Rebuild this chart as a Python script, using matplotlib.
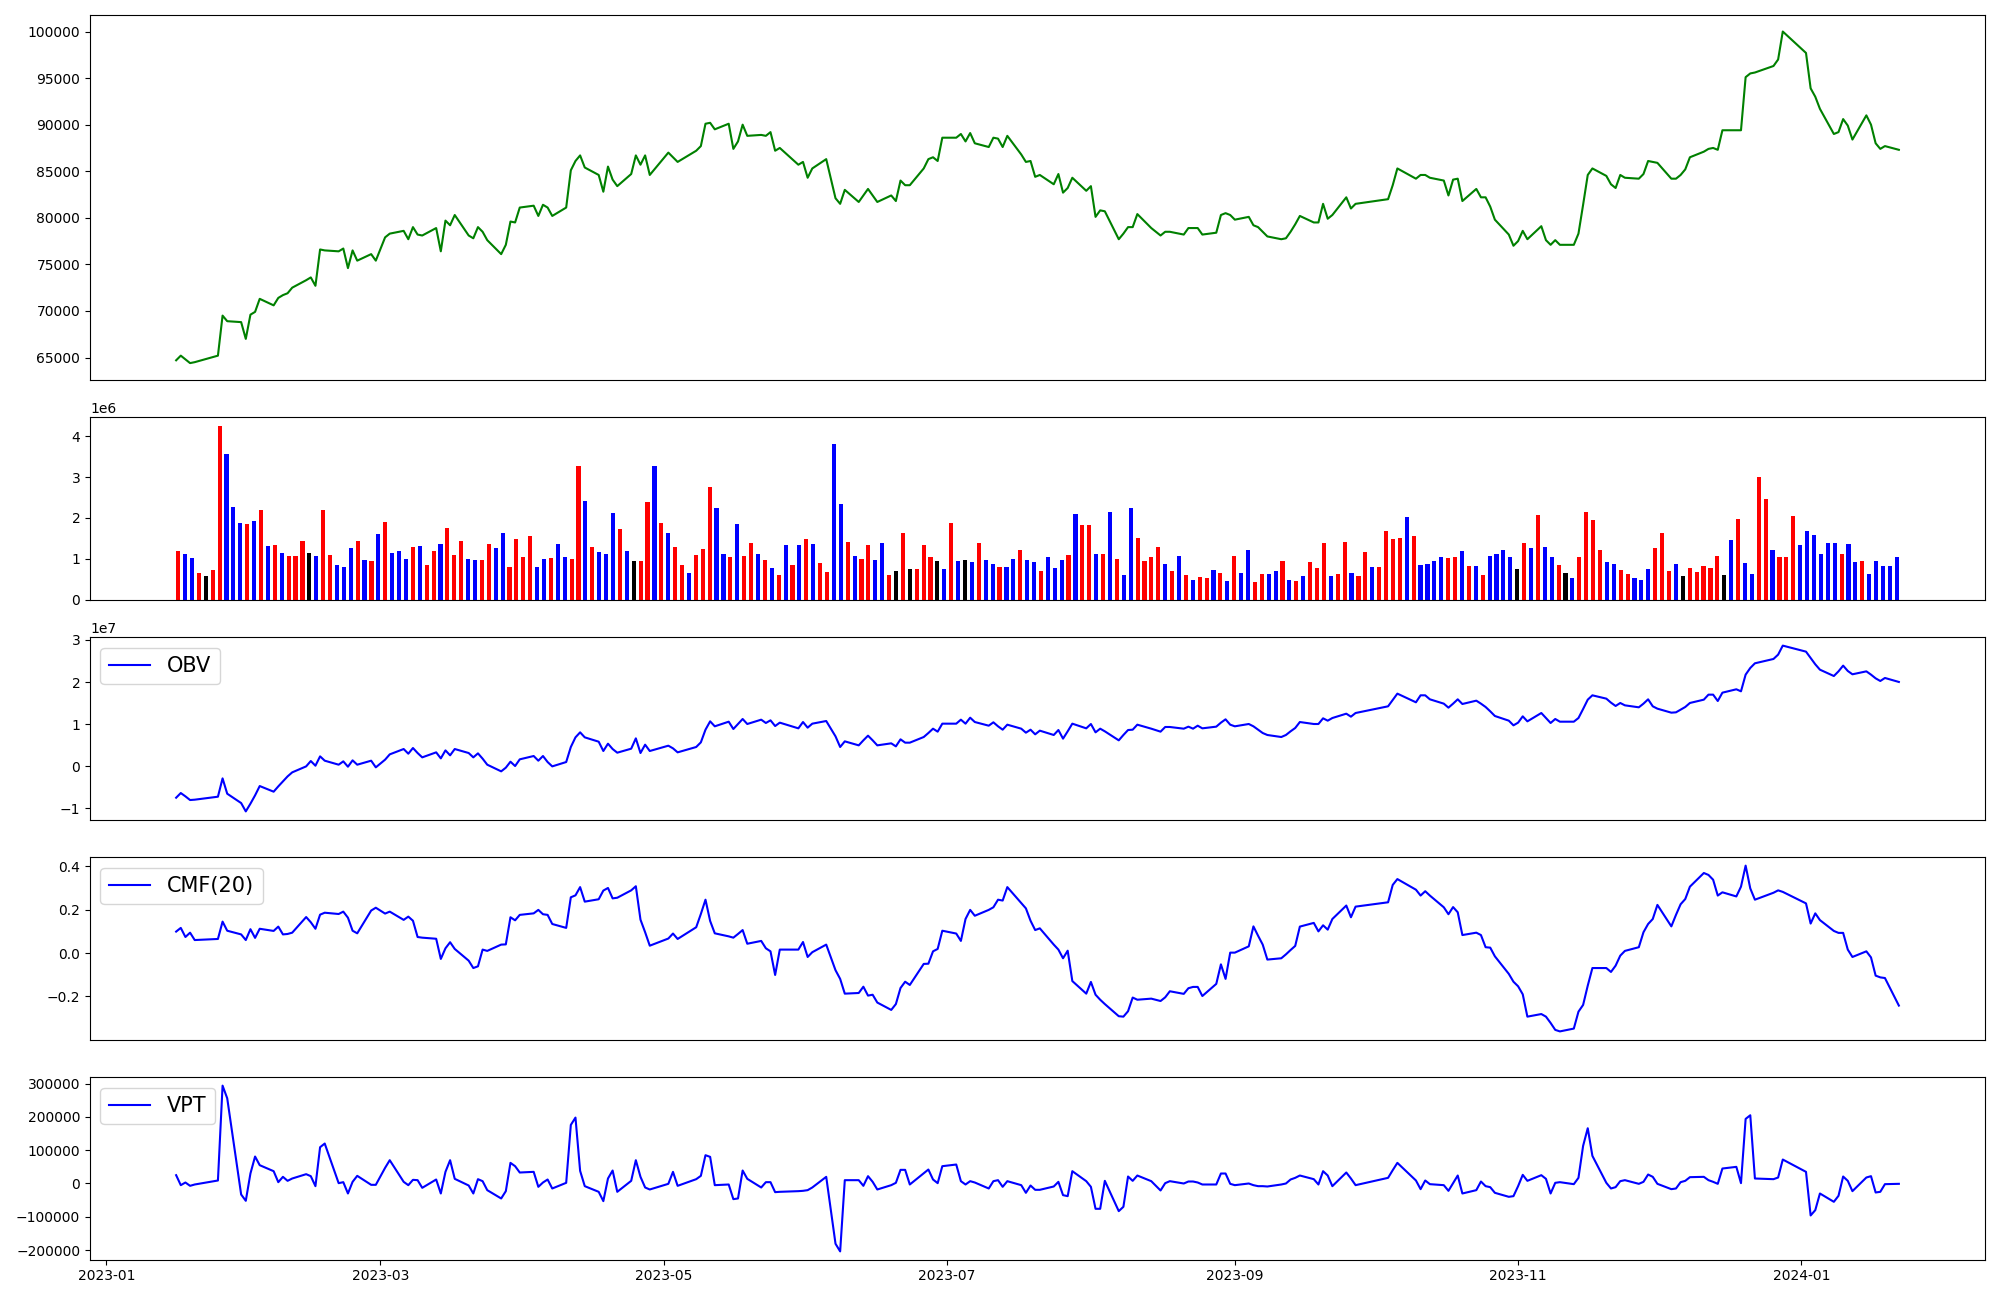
import numpy as np
import pandas as pd
from matplotlib import pyplot as plt

# KRX trading days between 2023-01-16 and 2024-01-22
holidays = ['2023-01-23', '2023-01-24', '2023-03-01', '2023-05-01', '2023-05-05',
            '2023-05-29', '2023-06-06', '2023-08-15', '2023-09-28', '2023-09-29',
            '2023-10-02', '2023-10-03', '2023-10-09', '2023-12-25', '2023-12-29',
            '2024-01-01']
dates = pd.bdate_range('2023-01-16', '2024-01-22')
dates = dates[~dates.isin(pd.to_datetime(holidays))]

# close price, one row per week
close = [
    64700, 65200, 64800, 64400, 64500,
    65200, 69500, 68900,
    68800, 67000, 69600, 69900, 71300,
    70600, 71400, 71700, 71900, 72500,
    73300, 73600, 72700, 76600, 76500,
    76400, 76700, 74600, 76500, 75400,
    76100, 75400, 77900, 78300,
    78600, 77700, 79000, 78200, 78100,
    78900, 76400, 79700, 79200, 80300,
    78100, 77800, 79000, 78500, 77600,
    76100, 77100, 79600, 79500, 81100,
    81300, 80200, 81400, 81100, 80200,
    81100, 85100, 86100, 86700, 85400,
    84600, 82800, 85500, 84100, 83400,
    84700, 86700, 85700, 86700, 84600,
    87000, 86500, 86000,
    87200, 87700, 90100, 90200, 89500,
    90100, 87400, 88200, 90000, 88800,
    88900, 88800, 89200, 87200, 87500,
    85700, 86000, 84300, 85300,
    86300, 82100, 81500, 83000,
    81700, 82400, 83100, 82400, 81700,
    82400, 81800, 84000, 83500, 83500,
    85300, 86300, 86500, 86100, 88600,
    88600, 89000, 88200, 89100, 88000,
    87600, 88600, 88500, 87600, 88800,
    86800, 86000, 86100, 84400, 84600,
    83600, 84700, 82700, 83200, 84300,
    82900, 83400, 80100, 80800, 80700,
    77700, 78300, 79000, 79000, 80400,
    78900, 78100, 78500, 78500,
    78200, 78900, 78900, 78900, 78200,
    78400, 80300, 80500, 80300, 79800,
    80100, 79200, 79000, 78500, 78000,
    77700, 77800, 78500, 79300, 80200,
    79500, 79500, 81500, 79900, 80300,
    82200, 81000, 81500,
    82000, 83500, 85300,
    84200, 84600, 84600, 84300,
    84000, 82400, 84100, 84200, 81800,
    83100, 82200, 82200, 81200, 79800,
    78200, 77000, 77500, 78600, 77700,
    79100, 77600, 77100, 77600, 77100,
    77100, 78300, 81400, 84600, 85300,
    84500, 83600, 83200, 84600, 84300,
    84200, 84700, 86100, 86000, 85900,
    84200, 84200, 84600, 85200, 86500,
    87100, 87400, 87500, 87300, 89400,
    89400, 89400, 95100, 95500, 95600,
    96300, 97000, 100000,
    97700, 93900, 93000, 91700,
    89000, 89200, 90600, 89900, 88400,
    91000, 90000, 88000, 87400, 87700,
    87300,
]

# volume in millions of shares
volume_m = [
    1.19, 1.12, 1.02, 0.65, 0.58, 0.73, 4.25, 3.56, 2.27, 1.88,
    1.85, 1.92, 2.19, 1.31, 1.34, 1.14, 1.07, 1.07, 1.44, 1.14,
    1.07, 2.19, 1.09, 0.85, 0.80, 1.26, 1.44, 0.97, 0.95, 1.61,
    1.90, 1.14, 1.19, 1.00, 1.29, 1.31, 0.85, 1.19, 1.36, 1.75,
    1.09, 1.44, 1.00, 0.97, 0.97, 1.36, 1.26, 1.63, 0.80, 1.48,
    1.04, 1.56, 0.80, 1.00, 1.02, 1.36, 1.04, 1.00, 3.27, 2.41,
    1.29, 1.17, 1.12, 2.12, 1.73, 1.19, 0.95, 0.95, 2.39, 3.27,
    1.88, 1.63, 1.29, 0.85, 0.65, 1.09, 1.24, 2.76, 2.24, 1.12,
    1.04, 1.85, 1.07, 1.39, 1.12, 0.97, 0.78, 0.60, 1.34, 0.85,
    1.34, 1.48, 1.36, 0.90, 0.68, 3.81, 2.34, 1.41, 1.07, 1.00,
    1.34, 0.97, 1.39, 0.60, 0.70, 1.63, 0.75, 0.75, 1.34, 1.04,
    0.95, 0.75, 1.88, 0.95, 0.97, 0.92, 1.39, 0.97, 0.87, 0.80,
    0.80, 1.00, 1.22, 0.97, 0.92, 0.70, 1.04, 0.78, 0.97, 1.09,
    2.10, 1.83, 1.83, 1.12, 1.12, 2.14, 1.00, 0.60, 2.24, 1.51,
    0.95, 1.04, 1.29, 0.87, 0.70, 1.07, 0.60, 0.48, 0.56, 0.53,
    0.73, 0.65, 0.46, 1.07, 0.65, 1.22, 0.43, 0.63, 0.63, 0.70,
    0.95, 0.48, 0.46, 0.58, 0.92, 0.78, 1.39, 0.58, 0.63, 1.41,
    0.65, 0.58, 1.17, 0.80, 0.80, 1.68, 1.48, 1.51, 2.02, 1.56,
    0.85, 0.87, 0.95, 1.04, 1.02, 1.04, 1.19, 0.82, 0.82, 0.60,
    1.07, 1.12, 1.22, 1.04, 0.75, 1.39, 1.26, 2.07, 1.29, 1.04,
    0.85, 0.65, 0.53, 1.04, 2.14, 1.95, 1.22, 0.92, 0.87, 0.73,
    0.63, 0.53, 0.48, 0.75, 1.26, 1.63, 0.70, 0.87, 0.58, 0.78,
    0.68, 0.82, 0.78, 1.07, 0.60, 1.46, 1.97, 0.90, 0.63, 3.00,
    2.46, 1.22, 1.04, 1.04, 2.05, 1.34, 1.68, 1.58, 1.12, 1.39,
    1.39, 1.12, 1.36, 0.92, 0.95, 0.63, 0.95, 0.82, 0.82, 1.04,
]

# r = up, b = down, k = flat
bar_kind = (
    "rbbrkrrbbb" "rbrbrbrrrk" "brrbbbrbrb" "rbbbrbrrbr" "rrbbrrbbrr"
    "rrbbrbbrrb" "rbbbrbkrrb" "rbrrbrrrbb" "rbrrbrbrbr" "brbrrbbrbr"
    "rbbrkrkrrr" "kbrbkbrbbr" "bbrbbrbbbr" "brrbrbrbbr" "rrrbrbrbrr"
    "brbrbbrrbb" "rbrbrrrbrr" "brrbrrrrbr" "bbbbrrbrbr" "bbbbkrbrbb"
    "rkbrrrrbbr" "rbbbrrrbkr" "rrrrkbrbbr" "rbrrrbbbbb" "brbbrbbbbb"
)

# OBV in units of 1e7
obv_1e7 = [
    -0.746, -0.635, -0.714, -0.801, -0.793,
    -0.722, -0.287, -0.651,
    -0.873, -1.071, -0.888, -0.690, -0.469,
    -0.603, -0.477, -0.358, -0.240, -0.144,
    -0.002, 0.125, 0.014, 0.236, 0.133,
    0.038, 0.117, -0.010, 0.141, 0.038,
    0.133, -0.025, 0.157, 0.283,
    0.410, 0.299, 0.434, 0.315, 0.212,
    0.331, 0.188, 0.378, 0.260, 0.410,
    0.315, 0.212, 0.307, 0.181, 0.038,
    -0.120, -0.033, 0.109, 0.006, 0.165,
    0.244, 0.133, 0.244, 0.101, -0.002,
    0.101, 0.458, 0.687, 0.806, 0.687,
    0.584, 0.363, 0.537, 0.410, 0.323,
    0.418, 0.663, 0.315, 0.513, 0.363,
    0.489, 0.426, 0.331,
    0.458, 0.568, 0.869, 1.067, 0.949,
    1.059, 0.885, 1.004, 1.123, 1.004,
    1.107, 1.028, 1.091, 0.956, 1.036,
    0.901, 1.051, 0.917, 1.012,
    1.075, 0.711, 0.458, 0.592,
    0.497, 0.616, 0.727, 0.616, 0.497,
    0.545, 0.473, 0.640, 0.561, 0.561,
    0.695, 0.790, 0.893, 0.822, 1.012,
    1.012, 1.107, 1.012, 1.154, 1.051,
    0.964, 1.044, 0.949, 0.869, 0.988,
    0.893, 0.798, 0.869, 0.759, 0.846,
    0.743, 0.861, 0.656, 0.830, 1.012,
    0.901, 1.004, 0.806, 0.893, 0.830,
    0.616, 0.743, 0.861, 0.869, 0.988,
    0.893, 0.822, 0.933, 0.933,
    0.893, 0.941, 0.893, 0.964, 0.901,
    0.941, 1.036, 1.115, 0.988, 0.949,
    1.004, 0.949, 0.869, 0.790, 0.743,
    0.695, 0.743, 0.830, 0.909, 1.051,
    1.004, 1.004, 1.139, 1.083, 1.146,
    1.249, 1.178, 1.265,
    1.424, 1.574, 1.725,
    1.519, 1.685, 1.685, 1.590,
    1.487, 1.392, 1.487, 1.590, 1.479,
    1.558, 1.487, 1.408, 1.305, 1.194,
    1.083, 0.972, 1.036, 1.186, 1.067,
    1.265, 1.146, 1.028, 1.123, 1.059,
    1.059, 1.146, 1.360, 1.582, 1.685,
    1.606, 1.511, 1.432, 1.503, 1.447,
    1.400, 1.487, 1.590, 1.424, 1.368,
    1.273, 1.281, 1.344, 1.408, 1.503,
    1.582, 1.701, 1.701, 1.550, 1.748,
    1.828, 1.780, 2.176, 2.334, 2.445,
    2.548, 2.651, 2.865,
    2.722, 2.571, 2.421, 2.294,
    2.143, 2.254, 2.390, 2.263, 2.184,
    2.254, 2.176, 2.088, 2.025, 2.097,
    2.002,
]

cmf_20 = [
    0.099, 0.116, 0.074, 0.094, 0.060,
    0.065, 0.145, 0.103,
    0.086, 0.060, 0.110, 0.070, 0.112,
    0.102, 0.122, 0.086, 0.088, 0.094,
    0.166, 0.142, 0.112, 0.177, 0.186,
    0.180, 0.191, 0.163, 0.103, 0.091,
    0.196, 0.209, 0.182, 0.191,
    0.153, 0.168, 0.149, 0.074, 0.071,
    0.066, -0.027, 0.022, 0.050, 0.019,
    -0.035, -0.069, -0.061, 0.016, 0.010,
    0.039, 0.040, 0.165, 0.151, 0.176,
    0.183, 0.199, 0.179, 0.176, 0.134,
    0.116, 0.257, 0.266, 0.304, 0.237,
    0.248, 0.288, 0.300, 0.252, 0.255,
    0.289, 0.308, 0.154, 0.096, 0.034,
    0.067, 0.090, 0.065,
    0.119, 0.180, 0.246, 0.148, 0.091,
    0.077, 0.071, 0.088, 0.106, 0.043,
    0.056, 0.022, 0.008, -0.101, 0.016,
    0.016, 0.051, -0.018, 0.004,
    0.039, -0.079, -0.119, -0.187,
    -0.184, -0.155, -0.196, -0.192, -0.228,
    -0.262, -0.235, -0.161, -0.132, -0.147,
    -0.050, -0.049, 0.008, 0.019, 0.103,
    0.090, 0.056, 0.157, 0.199, 0.172,
    0.199, 0.211, 0.246, 0.242, 0.304,
    0.231, 0.206, 0.149, 0.106, 0.114,
    0.039, 0.016, -0.024, 0.011, -0.129,
    -0.187, -0.133, -0.192, -0.215, -0.235,
    -0.291, -0.293, -0.268, -0.205, -0.215,
    -0.210, -0.221, -0.204, -0.176,
    -0.188, -0.162, -0.156, -0.156, -0.198,
    -0.142, -0.052, -0.119, 0.002, 0.002,
    0.031, 0.123, 0.080, 0.039, -0.030,
    -0.024, -0.006, 0.014, 0.033, 0.122,
    0.139, 0.100, 0.128, 0.108, 0.157,
    0.219, 0.165, 0.214,
    0.234, 0.314, 0.341,
    0.292, 0.265, 0.285, 0.265,
    0.211, 0.179, 0.212, 0.188, 0.083,
    0.094, 0.083, 0.027, 0.025, -0.015,
    -0.096, -0.132, -0.153, -0.190, -0.293,
    -0.281, -0.293, -0.322, -0.354, -0.361,
    -0.348, -0.270, -0.239, -0.150, -0.069,
    -0.069, -0.087, -0.058, -0.012, 0.010,
    0.027, 0.096, 0.134, 0.157, 0.222,
    0.123, 0.176, 0.225, 0.249, 0.306,
    0.369, 0.360, 0.338, 0.265, 0.280,
    0.261, 0.306, 0.403, 0.298, 0.246,
    0.278, 0.289, 0.282,
    0.229, 0.136, 0.183, 0.152,
    0.102, 0.093, 0.093, 0.016, -0.018,
    0.008, -0.020, -0.104, -0.112, -0.115,
    -0.242,
]

vpt = [
    25000, -5000, 3000, -7000, -3000,
    9000, 294000, 256000,
    -33000, -52000, 30000, 81000, 55000,
    37000, 4000, 20000, 8000, 15000,
    28000, 22000, -8000, 109000, 120000,
    1000, 4000, -30000, 5000, 23000,
    -4000, -4000, 47000, 70000,
    5000, -5000, 11000, 10000, -13000,
    12000, -30000, 35000, 70000, 14000,
    -6000, -30000, 13000, 7000, -20000,
    -45000, -23000, 62000, 52000, 33000,
    35000, -10000, 3000, 12000, -15000,
    2000, 176000, 198000, 38000, -8000,
    -25000, -53000, 15000, 39000, -25000,
    8000, 70000, 20000, -12000, -18000,
    -1000, 35000, -7000,
    13000, 23000, 85000, 80000, -5000,
    -3000, -47000, -45000, 39000, 14000,
    -12000, 4000, 4000, -26000, -25000,
    -23000, -22000, -20000, -12000,
    20000, -181000, -204000, 10000,
    10000, -7000, 22000, 5000, -18000,
    -5000, 2000, 41000, 41000, -3000,
    31000, 42000, 12000, 1000, 52000,
    57000, 7000, -3000, 7000, 3000,
    -15000, 7000, 10000, -10000, 7000,
    -5000, -28000, -6000, -19000, -19000,
    -9000, 5000, -35000, -38000, 37000,
    7000, -10000, -76000, -76000, 8000,
    -83000, -70000, 21000, 8000, 24000,
    7000, -21000, 1000, 7000,
    0, 6000, 6000, 3000, -3000,
    -3000, 30000, 30000, -1000, -5000,
    0, -5000, -8000, -8000, -9000,
    -3000, 0, 12000, 17000, 24000,
    13000, -3000, 37000, 24000, -8000,
    33000, 15000, -5000,
    17000, 40000, 62000,
    9000, -17000, 9000, -2000,
    -5000, -22000, 1000, 24000, -30000,
    -20000, 6000, -8000, -11000, -28000,
    -40000, -38000, -8000, 26000, 8000,
    25000, 14000, -30000, 2000, 4000,
    -2000, 17000, 113000, 166000, 83000,
    2000, -15000, -11000, 7000, 10000,
    -1000, 5000, 27000, 20000, -1000,
    -17000, -15000, 4000, 8000, 19000,
    20000, 10000, 5000, -1000, 45000,
    50000, 1000, 194000, 205000, 15000,
    13000, 18000, 72000,
    35000, -96000, -80000, -30000,
    -55000, -37000, 21000, 8000, -23000,
    18000, 22000, -27000, -25000, -2000,
    -1000,
]

volume = np.array(volume_m) * 1e6
obv = np.array(obv_1e7) * 1e7
kind_colors = {'r': 'red', 'b': 'blue', 'k': 'black'}
bar_colors = [kind_colors[c] for c in bar_kind]

fig, axes = plt.subplots(5, 1, figsize=(20, 13),
                         gridspec_kw={'height_ratios': [2, 1, 1, 1, 1]})
fig.subplots_adjust(left=0.045, right=0.9925, top=0.9885, bottom=0.031, hspace=0.172)
ax_price, ax_vol, ax_obv, ax_cmf, ax_vpt = axes

ax_price.plot(dates, close, color='green')
ax_price.set_xticks([])

ax_vol.bar(np.arange(len(volume)), volume, width=0.6, color=bar_colors)
ax_vol.set_xticks([])

ax_obv.plot(dates, obv, color='blue', label='OBV')
ax_obv.legend(loc='upper left', fontsize=15)
ax_obv.set_xticks([])

ax_cmf.plot(dates, cmf_20, color='blue', label='CMF(20)')
ax_cmf.legend(loc='upper left', fontsize=15)
ax_cmf.set_xticks([])

ax_vpt.plot(dates, vpt, color='blue', label='VPT')
ax_vpt.legend(loc='upper left', fontsize=15)

plt.savefig('out.png', dpi=100)
